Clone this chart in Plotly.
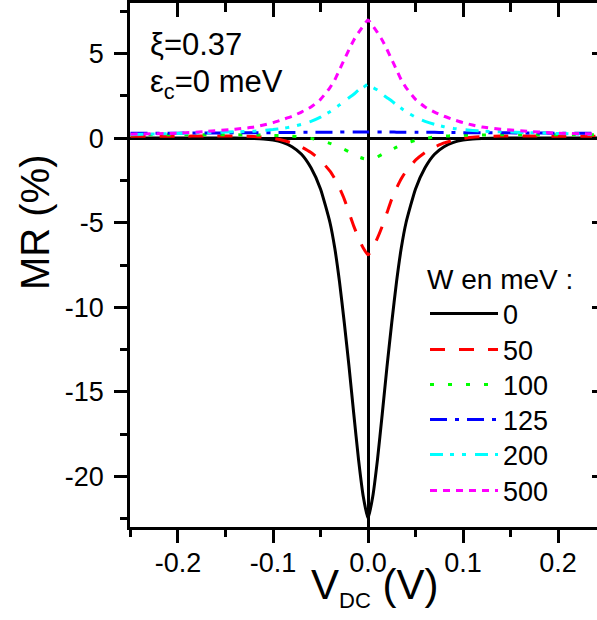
import plotly.graph_objects as go

# ---- data ----
V_DC = [-0.25, -0.2, -0.17, -0.14, -0.12, -0.11, -0.1, -0.09, -0.08, -0.07,
        -0.06, -0.05, -0.04, -0.035, -0.03, -0.025, -0.02, -0.015, -0.01, -0.005,
        0.0,
        0.005, 0.01, 0.015, 0.02, 0.025, 0.03, 0.035, 0.04, 0.05, 0.06,
        0.07, 0.08, 0.09, 0.1, 0.11, 0.12, 0.14, 0.17, 0.2, 0.25]

MR_W0 = [0.02, 0.02, 0.02, 0.01, -0.01, -0.04, -0.11, -0.25, -0.5, -0.95,
         -1.75, -3.0, -5.0, -6.5, -8.5, -10.9, -13.5, -16.3, -19.0, -21.2,
         -22.5,
         -21.2, -19.0, -16.3, -13.5, -10.9, -8.5, -6.5, -5.0, -3.0, -1.75,
         -0.95, -0.5, -0.25, -0.11, -0.04, -0.01, 0.01, 0.02, 0.02, 0.02]

MR_W50 = [0.12, 0.12, 0.13, 0.13, 0.1, 0.06, -0.01, -0.12, -0.28, -0.52,
          -0.85, -1.3, -1.95, -2.4, -2.95, -3.6, -4.4, -5.2, -5.9, -6.5,
          -6.9,
          -6.5, -5.9, -5.2, -4.4, -3.6, -2.95, -2.4, -1.95, -1.3, -0.85,
          -0.52, -0.28, -0.12, -0.01, 0.06, 0.1, 0.13, 0.13, 0.12, 0.12]

MR_W100 = [0.2, 0.2, 0.2, 0.2, 0.19, 0.18, 0.17, 0.15, 0.12, 0.07,
           -0.01, -0.13, -0.3, -0.41, -0.53, -0.66, -0.8, -0.95, -1.1, -1.2,
           -1.25,
           -1.2, -1.1, -0.95, -0.8, -0.66, -0.53, -0.41, -0.3, -0.13, -0.01,
           0.07, 0.12, 0.15, 0.17, 0.18, 0.19, 0.2, 0.2, 0.2, 0.2]

MR_W125 = [0.3, 0.3, 0.31, 0.32, 0.33, 0.33, 0.33, 0.34, 0.34, 0.35,
           0.35, 0.35, 0.36, 0.36, 0.36, 0.37, 0.37, 0.37, 0.37, 0.37,
           0.37,
           0.37, 0.37, 0.37, 0.37, 0.37, 0.36, 0.36, 0.36, 0.35, 0.35,
           0.35, 0.34, 0.34, 0.33, 0.33, 0.33, 0.32, 0.31, 0.3, 0.3]

MR_W200 = [0.22, 0.28, 0.33, 0.38, 0.42, 0.46, 0.51, 0.58, 0.68, 0.82,
           1.0, 1.25, 1.57, 1.77, 1.97, 2.2, 2.4, 2.6, 2.85, 3.0,
           3.2,
           3.0, 2.85, 2.6, 2.4, 2.2, 1.97, 1.77, 1.57, 1.25, 1.0,
           0.82, 0.68, 0.58, 0.51, 0.46, 0.42, 0.38, 0.33, 0.28, 0.22]

MR_W500 = [0.24, 0.3, 0.4, 0.53, 0.66, 0.78, 0.92, 1.1, 1.3, 1.55,
           1.85, 2.3, 3.0, 3.45, 4.05, 4.65, 5.25, 5.8, 6.25, 6.65,
           7.0,
           6.65, 6.25, 5.8, 5.25, 4.65, 4.05, 3.45, 3.0, 2.3, 1.85,
           1.55, 1.3, 1.1, 0.92, 0.78, 0.66, 0.53, 0.4, 0.3, 0.24]

SERIES_NAMES = ["0", "50", "100", "125", "200", "500"]
SERIES_VALUES = [MR_W0, MR_W50, MR_W100, MR_W125, MR_W200, MR_W500]
LEGEND_TITLE = "W en meV :"

X_TICKS = [-0.2, -0.1, 0.0, 0.1, 0.2]
X_TICK_LABELS = ["-0.2", "-0.1", "0.0", "0.1", "0.2"]
X_MINOR = [-0.25, -0.15, -0.05, 0.05, 0.15]
Y_TICKS = [-20, -15, -10, -5, 0, 5]
Y_TICK_LABELS = ["-20", "-15", "-10", "-5", "0", "5"]
Y_MINOR = [-22.5, -17.5, -12.5, -7.5, -2.5, 2.5, 7.5]

# ---- styling ----
COLORS = ["#000000", "#FF0000", "#00FF00", "#0000FF", "#00FFFF", "#FF00FF"]
DASHES = ["solid", "15px,14px", "4px,14px", "17px,8px,4px,8px",
          "13px,7px,4px,8px,4px,9px", "7px,6px"]
LEGEND_IDS = ["legend", "legend2", "legend3", "legend4", "legend5", "legend6"]
LEGEND_Y = [0.523, 0.3378, 0.2710, 0.2042, 0.1374, 0.0687]
FONT = "Liberation Sans, Arial, sans-serif"
XR = [-0.2505, 0.241]
YR = [-23, 8]

fig = go.Figure()
for name, vals, col, dash, lg in zip(SERIES_NAMES, SERIES_VALUES, COLORS, DASHES, LEGEND_IDS):
    fig.add_trace(go.Scatter(
        x=V_DC, y=vals, mode="lines", name=name, legend=lg,
        line=dict(color=col, width=3, dash=dash, shape="spline", smoothing=0.5),
    ))
# dummy trace so the mirror axes exist
fig.add_trace(go.Scatter(x=[None], y=[None], xaxis="x2", yaxis="y2",
                         showlegend=False, hoverinfo="skip"))

axis_common = dict(showgrid=False, linecolor="black", linewidth=2.5,
                   tickcolor="black", tickwidth=2.5)

legends = {}
for i, (lg, ly) in enumerate(zip(LEGEND_IDS, LEGEND_Y)):
    d = dict(x=0.6317, y=ly, xref="paper", yref="paper", xanchor="left",
             yanchor="top" if i == 0 else "middle",
             bgcolor="rgba(0,0,0,0)", borderwidth=0,
             font=dict(size=27), itemwidth=68, tracegroupgap=0)
    if i == 0:
        d["title"] = dict(text=LEGEND_TITLE, font=dict(size=28))
    legends[lg] = d

fig.update_layout(
    width=597, height=620,
    margin=dict(l=130, r=0, t=3, b=93),
    paper_bgcolor="white", plot_bgcolor="white",
    font=dict(family=FONT, size=27, color="black"),
    showlegend=True,
    xaxis=dict(range=XR, tickmode="array", tickvals=X_TICKS, ticktext=X_TICK_LABELS,
               ticks="outside", ticklen=13, showline=True, ticklabelstandoff=-3,
               zeroline=True, zerolinecolor="black", zerolinewidth=2.5,
               minor=dict(tickmode="array", tickvals=X_MINOR, ticks="outside",
                          ticklen=7, tickwidth=2.5, tickcolor="black"),
               tickfont=dict(size=27), **axis_common),
    yaxis=dict(range=YR, tickmode="array", tickvals=Y_TICKS, ticktext=Y_TICK_LABELS,
               ticks="outside", ticklen=13, showline=True, ticklabelstandoff=5,
               zeroline=True, zerolinecolor="black", zerolinewidth=2.5,
               minor=dict(tickmode="array", tickvals=Y_MINOR, ticks="outside",
                          ticklen=7, tickwidth=2.5, tickcolor="black"),
               tickfont=dict(size=27), **axis_common),
    xaxis2=dict(range=XR, overlaying="x", side="top", anchor="y",
                tickmode="array", tickvals=X_TICKS, ticks="inside", ticklen=14,
                showticklabels=False, showline=True, zeroline=False,
                minor=dict(tickmode="array", tickvals=X_MINOR, ticks="inside",
                           ticklen=9, tickwidth=2.5, tickcolor="black"),
                **axis_common),
    yaxis2=dict(range=YR, overlaying="y", side="right", anchor="x",
                tickmode="array", tickvals=Y_TICKS, ticks="inside", ticklen=5,
                showticklabels=False, showline=False, zeroline=False,
                **axis_common),
    annotations=[
        dict(text="ξ=0.37", xref="paper", yref="paper", x=0.0385, y=0.92,
             xanchor="left", yanchor="middle", showarrow=False,
             font=dict(size=31)),
        dict(text="ε<sub>c</sub>=0 meV", xref="paper", yref="paper", x=0.0385, y=0.845,
             xanchor="left", yanchor="middle", showarrow=False,
             font=dict(size=31)),
        dict(text="MR (%)", xref="paper", yref="paper", x=-0.2034, y=0.582,
             xanchor="center", yanchor="middle", textangle=-90, showarrow=False,
             font=dict(size=40)),
        dict(text="V<sub><span style='font-size:22px'>DC</span></sub> (V)",
             xref="paper", yref="paper", x=0.5246, y=-0.061,
             xanchor="center", yanchor="top", showarrow=False,
             font=dict(size=42)),
    ],
    **legends,
)

fig.write_html("out.html", config={"displayModeBar": False},
               post_script="document.body.style.margin='0px';")
